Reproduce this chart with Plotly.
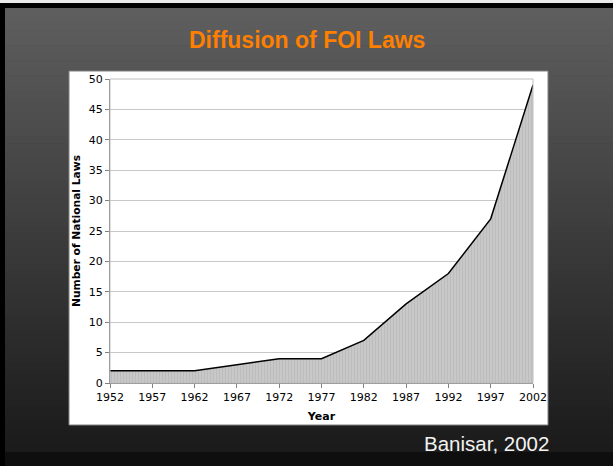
import plotly.graph_objects as go

years = [1952, 1957, 1962, 1967, 1972, 1977, 1982, 1987, 1992, 1997, 2002]
laws = [2, 2, 2, 3, 4, 4, 7, 13, 18, 27, 49]
x_ticks = [1952, 1957, 1962, 1967, 1972, 1977, 1982, 1987, 1992, 1997, 2002]
y_ticks = [0, 5, 10, 15, 20, 25, 30, 35, 40, 45, 50]

W, H = 613, 466
L, R, T, B = 110, 533, 79, 383


def px(x):
    return (x - L) / (R - L)


def py(y):
    return (B - y) / (B - T)


shapes = []
# gradient background bands
n = 60
y0, y1 = 0, 452
c0, c1 = 96, 26
for i in range(n):
    ya = y0 + (y1 - y0) * i / n
    yb = y0 + (y1 - y0) * (i + 1) / n + 0.5
    c = round(c0 + (c1 - c0) * (i + 0.5) / n)
    shapes.append(dict(type="rect", xref="paper", yref="paper",
                       x0=px(0), x1=px(W), y0=py(yb), y1=py(ya),
                       fillcolor=f"rgb({c},{c},{c})", line_width=0, layer="below"))
# bottom dark band
shapes.append(dict(type="rect", xref="paper", yref="paper",
                   x0=px(0), x1=px(W), y0=py(H), y1=py(452),
                   fillcolor="rgb(14,14,14)", line_width=0, layer="below"))
# top light strip and black frame
shapes.append(dict(type="rect", xref="paper", yref="paper",
                   x0=px(0), x1=px(W), y0=py(3), y1=py(0),
                   fillcolor="rgb(235,235,235)", line_width=0, layer="below"))
shapes.append(dict(type="rect", xref="paper", yref="paper",
                   x0=px(0), x1=px(W), y0=py(8), y1=py(3),
                   fillcolor="black", line_width=0, layer="below"))
shapes.append(dict(type="rect", xref="paper", yref="paper",
                   x0=px(0), x1=px(5), y0=py(H), y1=py(3),
                   fillcolor="black", line_width=0, layer="below"))
# white chart panel
shapes.append(dict(type="rect", xref="paper", yref="paper",
                   x0=px(69), x1=px(548), y0=py(425), y1=py(71),
                   fillcolor="white", line=dict(color="#808080", width=1), layer="below"))
# plot area border (right/top)
shapes.append(dict(type="rect", xref="paper", yref="paper",
                   x0=0, x1=1, y0=0, y1=1,
                   fillcolor="rgba(0,0,0,0)", line=dict(color="#bdbdbd", width=1), layer="above"))

fig = go.Figure()
fig.add_trace(go.Scatter(
    x=years, y=laws, mode="lines",
    line=dict(color="black", width=1.5),
    fill="tozeroy",
    fillcolor="#c6c6c6",
    fillpattern=dict(shape="|", fgcolor="#a8a8a8", bgcolor="#c8c8c8", size=3, solidity=0.25),
    hoverinfo="skip",
    showlegend=False,
))

fig.update_layout(
    width=W, height=H,
    margin=dict(l=L, r=W - R, t=T, b=H - B, pad=0),
    paper_bgcolor="rgb(60,60,60)",
    plot_bgcolor="white",
    shapes=shapes,
    font=dict(family="Verdana, DejaVu Sans, sans-serif", size=11, color="black"),
    xaxis=dict(
        range=[1952, 2002], tickvals=x_ticks, ticktext=[str(v) for v in x_ticks],
        showgrid=False, zeroline=False,
        showline=True, linecolor="#808080", linewidth=1,
        ticks="outside", ticklen=4, tickcolor="#808080",
        tickfont=dict(size=11),
        title=dict(text="<b>Year</b>", font=dict(size=11), standoff=9),
    ),
    yaxis=dict(
        range=[0, 50], tickvals=y_ticks,
        showgrid=True, gridcolor="#c8c8c8", gridwidth=1,
        zeroline=False,
        showline=True, linecolor="#808080", linewidth=1,
        ticks="outside", ticklen=4, tickcolor="#808080",
        tickfont=dict(size=11),
        title=dict(text="<b>Number of National Laws</b>", font=dict(size=10.7), standoff=6),
    ),
    annotations=[
        dict(text="<b>Diffusion of FOI Laws</b>", xref="paper", yref="paper",
             x=px(307), y=py(40), xanchor="center", yanchor="middle", showarrow=False,
             font=dict(family="Liberation Sans, Arial, sans-serif", size=23, color="#ff7f00")),
        dict(text="Banisar, 2002", xref="paper", yref="paper",
             x=px(551), y=py(443), xanchor="right", yanchor="middle", showarrow=False,
             font=dict(family="Liberation Sans, Arial, sans-serif", size=20.5, color="#f2f2f2")),
    ],
)

fig.write_html("out.html", config={"displayModeBar": False},
               post_script="document.body.style.margin='0';document.body.style.overflow='hidden';")
